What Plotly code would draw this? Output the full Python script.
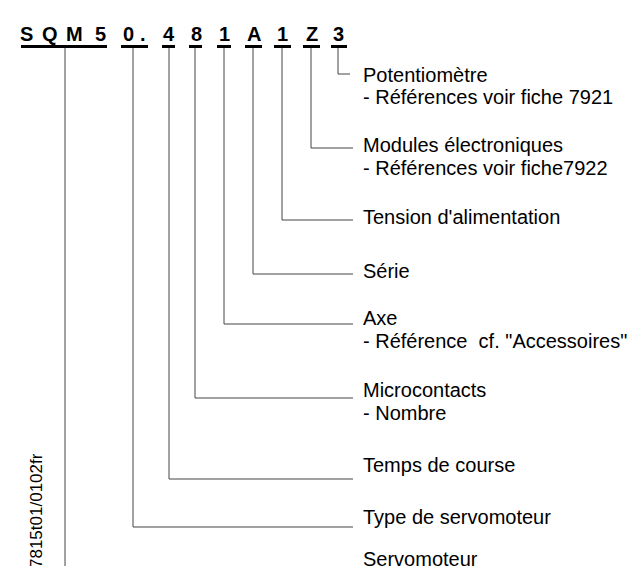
import plotly.graph_objects as go

# Type code characters and their horizontal centre positions
code_chars = ["S", "Q", "M", "5", "0", ".", "4", "8", "1", "A", "1", "Z", "3"]
code_char_x = [18.5, 42, 66.5, 92.5, 120, 135, 160.5, 188, 216, 245.5, 274, 303.5, 330.5]

# Code groups (underlined) : start, end
group_names = ["SQM5", "0.", "4", "8", "1", "A", "1", "Z", "3"]
group_x0 = [13, 113, 154, 181, 209, 237, 266, 295, 323]
group_x1 = [99, 140, 167, 194, 223, 254, 283, 312, 339]
group_stem_x = [57, 125, 161, 187, 216, 245, 274, 303, 330]
group_leader_y = [566, 519, 471, 390, 316, 266, 212, 140, 66]

# Labels
label_lines = [
    ("Potentiomètre", 70),
    ("- Références voir fiche 7921", 92),
    ("Modules électroniques", 140),
    ("- Références voir fiche7922", 163),
    ("Tension d'alimentation", 212),
    ("Série", 266),
    ("Axe", 313),
    ("- Référence  cf. \"Accessoires\"", 336),
    ("Microcontacts", 385),
    ("- Nombre", 408),
    ("Temps de course", 460),
    ("Type de servomoteur", 512),
    ("Servomoteur", 554),
]
doc_ref = "7815t01/0102fr"

W, H = 639, 566
LINE_END = 345
LABEL_X = 353
FONT = "Liberation Sans, Arial, sans-serif"

fig = go.Figure()

# underlines
for x0, x1 in zip(group_x0, group_x1):
    fig.add_trace(go.Scatter(x=[x0, x1], y=[38.5, 38.5], mode="lines",
                             line=dict(color="black", width=3), hoverinfo="skip"))

# leaders
for i, (sx, ly) in enumerate(zip(group_stem_x, group_leader_y)):
    if group_names[i] == "SQM5":
        xs, ys = [sx, sx], [40, ly]
    else:
        end = 342 if group_names[i] == "3" else LINE_END
        xs, ys = [sx, sx, end], [40, ly, ly]
    fig.add_trace(go.Scatter(x=xs, y=ys, mode="lines",
                             line=dict(color="#444444", width=1), hoverinfo="skip"))

ann = []
for ch, cx in zip(code_chars, code_char_x):
    ann.append(dict(x=cx, y=25.5, text="<b>%s</b>" % ch, showarrow=False,
                    xanchor="center", yanchor="middle",
                    font=dict(family=FONT, size=20, color="black")))
for txt, y in label_lines:
    ann.append(dict(x=LABEL_X, y=y - 3, text=txt, showarrow=False,
                    xanchor="left", yanchor="middle",
                    font=dict(family=FONT, size=20, color="black")))
ann.append(dict(x=28, y=503, text=doc_ref, showarrow=False, textangle=-90,
                xanchor="center", yanchor="middle",
                font=dict(family=FONT, size=17, color="black")))

fig.update_layout(
    width=W, height=H, margin=dict(l=0, r=0, t=0, b=0),
    paper_bgcolor="white", plot_bgcolor="white", showlegend=False,
    xaxis=dict(range=[0, W], visible=False, fixedrange=True),
    yaxis=dict(range=[H, 0], visible=False, fixedrange=True),
    annotations=ann,
)
fig.write_html("out.html")
